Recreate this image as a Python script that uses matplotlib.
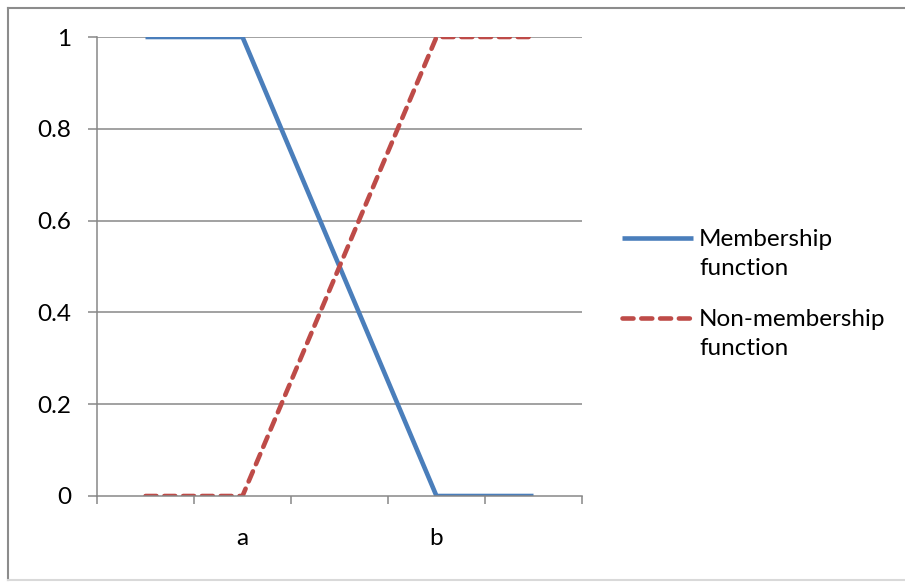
import numpy as np
import matplotlib.pyplot as plt
from matplotlib.lines import Line2D

# -------------------------------
# Data
# -------------------------------
categories = ["", "a", "", "b", ""]
membership = [1, 1, 0.5, 0, 0]
non_membership = [0, 0, 0.5, 1, 1]
y_ticks = [0, 0.2, 0.4, 0.6, 0.8, 1]
y_tick_labels = ["0", "0.2", "0.4", "0.6", "0.8", "1"]
series_names = ["Membership\nfunction", "Non-membership\nfunction"]

blue = "#4A7EBB"
red = "#BE4B48"
grid_gray = "#878787"
fs = 17.5

plt.rcParams['font.family'] = ['Lato', 'DejaVu Sans']

fig = plt.figure(figsize=(9.05, 5.82), dpi=100)
ax = fig.add_axes([97 / 905, 86 / 582, 485 / 905, 459 / 582])

x = np.arange(len(categories))
styles = [dict(color=blue, lw=3.3, solid_capstyle='butt'),
          dict(color=red, lw=3.3, linestyle=(0, (2.4, 1.7)), dash_capstyle='round')]
ax.plot(x, membership, **styles[0])
ax.plot(x, non_membership, **styles[1])

# axes / grid
ax.set_xlim(-0.5, len(categories) - 0.5)
ax.set_ylim(0, 1)
ax.set_yticks(y_ticks)
ax.set_yticklabels(y_tick_labels, fontsize=fs)
for v in y_ticks[1:]:
    ax.axhline(v, color=grid_gray, lw=1.1, zorder=0)

ax.set_xticks(np.arange(len(categories) + 1) - 0.5)
ax.set_xticklabels([])
ax.set_xticks(x, minor=True)
ax.set_xticklabels(categories, minor=True, fontsize=fs)
ax.tick_params(axis='x', which='minor', length=0, pad=23)
ax.tick_params(axis='x', which='major', length=6, width=1.1, color=grid_gray)
ax.tick_params(axis='y', length=6.5, width=1.1, color=grid_gray, pad=12)

for s in ['top', 'right']:
    ax.spines[s].set_visible(False)
for s in ['left', 'bottom']:
    ax.spines[s].set_color(grid_gray)
    ax.spines[s].set_linewidth(1.1)

# legend (handle level with first text line, as Excel does)
W, H = 905, 582
for i, name in enumerate(series_names):
    y_line = 238 + 80 * i
    fig.add_artist(Line2D([622 / W, 693 / W], [1 - y_line / H] * 2, **styles[i]))
    fig.text(699 / W, 1 - (y_line + 16) / H, name, fontsize=fs,
             va='center', ha='left', linespacing=1.45)

# outer frame
fig.add_artist(Line2D([8 / W, 1], [1 - 8 / H, 1 - 8 / H], color="#8c8c8c", lw=1.5))
fig.add_artist(Line2D([8 / W, 8 / W], [1 - 8 / H, 2 / H], color="#8c8c8c", lw=1.5))
fig.add_artist(Line2D([8 / W, 1], [2 / H, 2 / H], color="#d9d9d9", lw=1.5))

fig.savefig("out.png", dpi=100)
